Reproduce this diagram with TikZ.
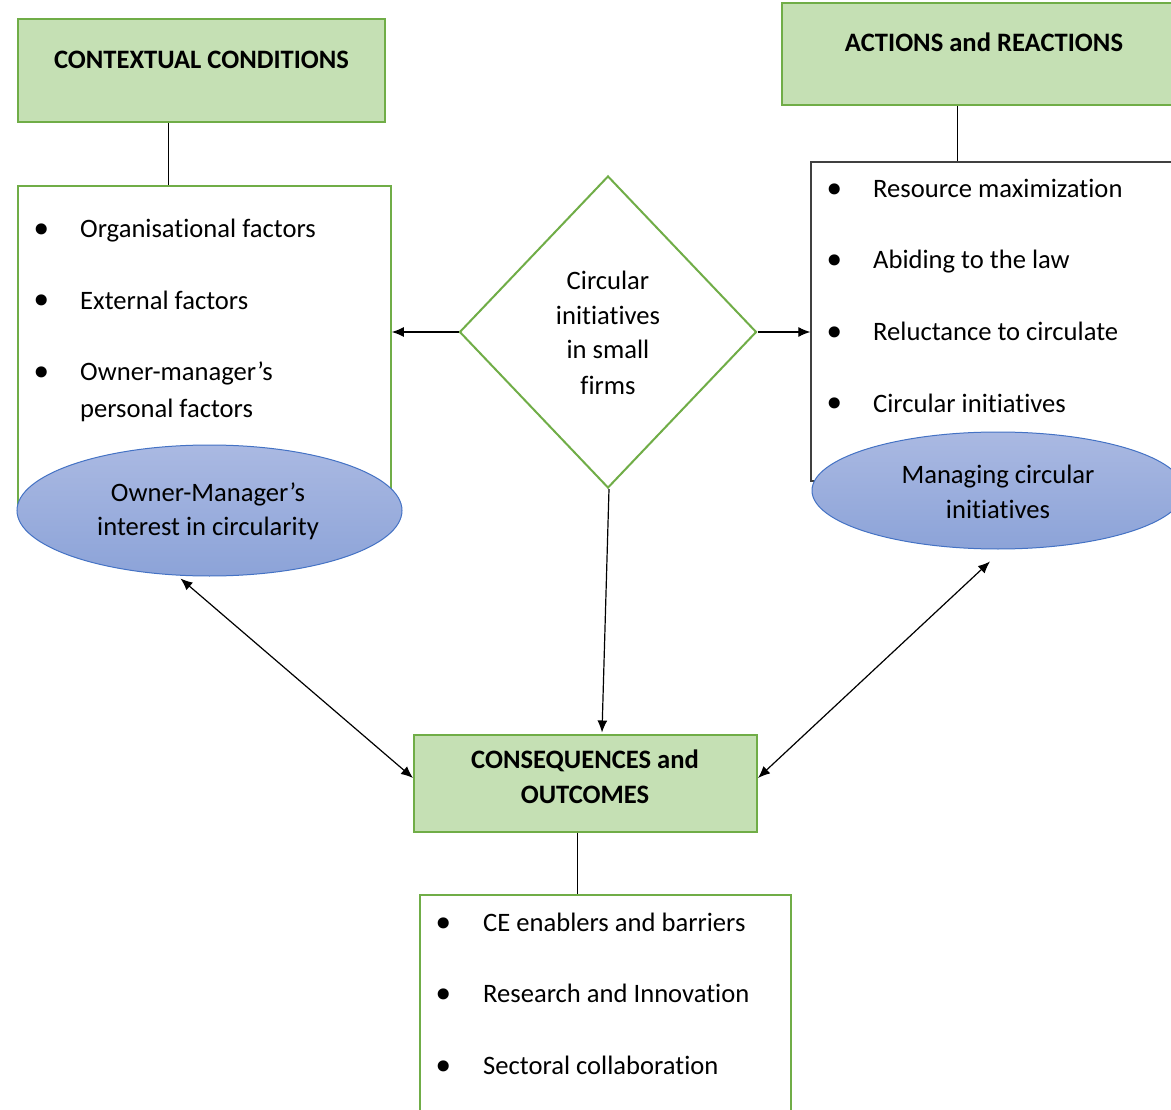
\documentclass[tikz,border=0pt]{standalone}
\usepackage{fontspec}
\setmainfont{Carlito}[Ligatures=NoCommon]
\newfontfamily\dejavu{DejaVu Sans}
\usetikzlibrary{shapes.geometric,arrows.meta,calc}
\definecolor{gfill}{HTML}{C5E0B4}
\definecolor{gline}{HTML}{70AD47}
\definecolor{etop}{HTML}{AAB9E2}
\definecolor{ebot}{HTML}{8CA3D8}
\definecolor{eline}{HTML}{4472C4}
\definecolor{dline}{HTML}{404040}
\begin{document}
\begin{tikzpicture}[x=1pt,y=-1pt,
  every node/.style={font=\fontsize{26.6}{35}\selectfont, inner sep=0},
  headbox/.style={draw=gline, line width=2pt, fill=gfill},
  listbox/.style={draw=gline, line width=1.6pt, fill=white},
  darkbox/.style={draw=dline, line width=1.3pt, fill=white},
  oval/.style={ellipse, draw=eline, line width=1pt, top color=etop, bottom color=ebot},
  headtxt/.style={font=\fontsize{26.6}{35}\selectfont\bfseries, anchor=base, align=center},
  itemtxt/.style={anchor=base west},
  bul/.style={font=\fontsize{38}{38}\dejavu, yshift=-4pt},
  conn/.style={line width=1pt, black},
  arr/.style={line width=1.2pt, -{Latex[length=12pt,width=10pt]}},
  darr/.style={line width=1.2pt, {Latex[length=12pt,width=10pt]}-{Latex[length=12pt,width=10pt]}}]
\useasboundingbox (0,0) rectangle (1171,1110);
\clip (0,0) rectangle (1171,1110);
\fill[white] (0,0) rectangle (1171,1110);

% Contextual conditions
\node[headbox, minimum width=367, minimum height=103] (cc) at (201.5,70.5) {};
\node[headtxt] (cct) at (201.5,69) {CONTEXTUAL CONDITIONS};
\node[listbox, minimum width=373, minimum height=324] (ccl) at (204.5,348) {};
\draw[conn] ([xshift=-33.5]cc.south) -- ([xshift=-33.5]cc.south |- ccl.north);
\node[bul] (lb1) at (42,230) {•};
\node[itemtxt] (lt1) at (80,238) {Organisational factors};
\node[bul] (lb2) at (42,301) {•};
\node[itemtxt] (lt2) at (80,309) {External factors};
\node[bul] (lb3) at (42,373) {•};
\node[itemtxt] (lt3) at (80,381) {Owner-manager’s};
\node[itemtxt] (lt4) at (80,417) {personal factors};
\node[oval, minimum width=385, minimum height=131] (e1) at (209.5,510.5) {};
\node[anchor=base] (e1a) at (208,501) {Owner-Manager’s};
\node[anchor=base] (e1b) at (208,535) {interest in circularity};

% Actions and reactions
\node[headbox, minimum width=418, minimum height=102] (ar) at (991,54) {};
\node[headtxt] (art) at (984,52) {ACTIONS and REACTIONS};
\node[darkbox, minimum width=389, minimum height=319] (arl) at (1005.5,321.5) {};
\draw[conn] ([xshift=-34]ar.south) -- ([xshift=-34]ar.south |- arl.north);
\node[bul] (rb1) at (835,190) {•};
\node[itemtxt] (rt1) at (873,198) {Resource maximization};
\node[bul] (rb2) at (835,261) {•};
\node[itemtxt] (rt2) at (873,269) {Abiding to the law};
\node[bul] (rb3) at (835,333) {•};
\node[itemtxt] (rt3) at (873,341) {Reluctance to circulate};
\node[bul] (rb4) at (835,404) {•};
\node[itemtxt] (rt4) at (873,412) {Circular initiatives};
\node[oval, minimum width=372, minimum height=117] (e2) at (998,490.5) {};
\node[anchor=base] (e2a) at (998,483) {Managing circular};
\node[anchor=base] (e2b) at (998,518) {initiatives};

% Diamond
\node[diamond, draw=gline, line width=2pt, fill=white, minimum width=297, minimum height=312] (dia) at (608,332) {};
\node[anchor=base] (d1) at (608,290) {Circular};
\node[anchor=base] (d2) at (608,325) {initiatives};
\node[anchor=base] (d3) at (608,359) {in small};
\node[anchor=base] (d4) at (608,394) {firms};

% Consequences
\node[headbox, minimum width=343, minimum height=97] (cq) at (585.5,783) {};
\node[headtxt] (cqa) at (585,768) {CONSEQUENCES and};
\node[headtxt] (cqb) at (585,803) {OUTCOMES};
\node[listbox, minimum width=371, minimum height=230] (bl) at (605.5,1010) {};
\draw[conn] ([xshift=-8.5]cq.south) -- ([xshift=-8.5]cq.south |- bl.north);
\node[bul] (bb1) at (444,924) {•};
\node[itemtxt] (bt1) at (483,931) {CE enablers and barriers};
\node[bul] (bb2) at (444,995) {•};
\node[itemtxt] (bt2) at (483,1002) {Research and Innovation};
\node[bul] (bb3) at (444,1067) {•};
\node[itemtxt] (bt3) at (483,1074) {Sectoral collaboration};

% Arrows
\draw[arr] (dia.west) -- (dia.west -| ccl.east);
\draw[arr] (dia.east) -- (dia.east -| arl.west);
\draw[arr] ([xshift=1]dia.south) -- ($(cq.north)+(16.5,-1)$);
\draw[darr] ($(e1.south)+(-29,2)$) -- ($(cq.west)+(0,-5)$);
\draw[darr] ($(e2.south)+(-8,12)$) -- ($(cq.east)+(0,-5)$);
\end{tikzpicture}
\end{document}
